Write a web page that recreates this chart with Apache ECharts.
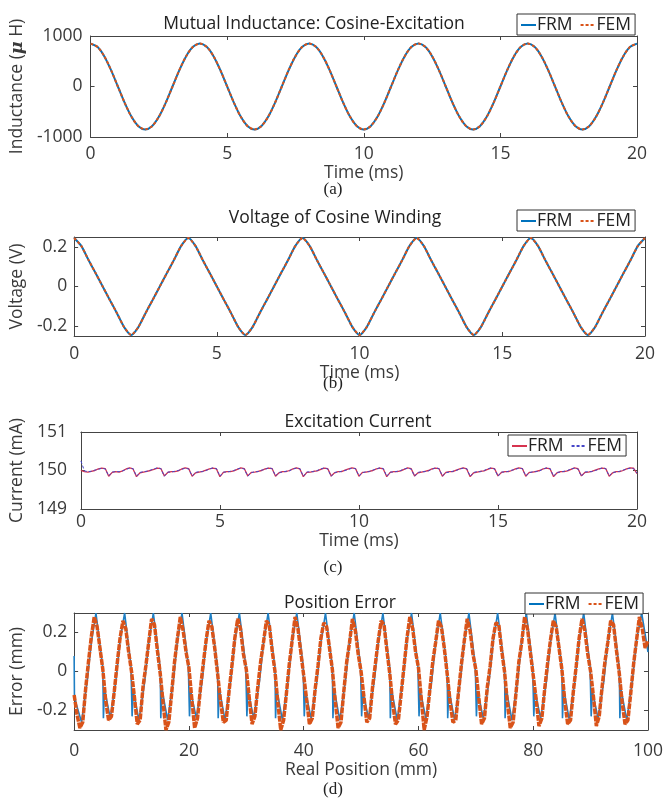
<!DOCTYPE html>
<html>
<head>
<meta charset="utf-8">
<script src="https://cdn.jsdelivr.net/npm/echarts@6/dist/echarts.min.js"></script>
<style>
  html, body { margin: 0; padding: 0; background: #fff; }
  #main { width: 666px; height: 800px; }
</style>
</head>
<body>
<div id="main"></div>
<script>
// (a) mutual inductance (uH), one sample every 0.25 ms
var inductance = [
  850, 785, 601, 325, 0, -325, -601, -785, -850, -785, -601, -325, 0, 325, 601, 785,
  850, 785, 601, 325, 0, -325, -601, -785, -850, -785, -601, -325, 0, 325, 601, 785,
  850, 785, 601, 325, 0, -325, -601, -785, -850, -785, -601, -325, 0, 325, 601, 785,
  850, 785, 601, 325, 0, -325, -601, -785, -850, -785, -601, -325, 0, 325, 601, 785,
  850, 785, 601, 325, 0, -325, -601, -785, -850, -785, -601, -325, 0, 325, 601, 785,
  850
];
// (b) voltage of cosine winding (V), every 0.25 ms
var voltage = [
  0.245, 0.205, 0.135, 0.068, 0, -0.068, -0.135, -0.205, -0.245, -0.205, -0.135, -0.068, 0, 0.068, 0.135, 0.205,
  0.245, 0.205, 0.135, 0.068, 0, -0.068, -0.135, -0.205, -0.245, -0.205, -0.135, -0.068, 0, 0.068, 0.135, 0.205,
  0.245, 0.205, 0.135, 0.068, 0, -0.068, -0.135, -0.205, -0.245, -0.205, -0.135, -0.068, 0, 0.068, 0.135, 0.205,
  0.245, 0.205, 0.135, 0.068, 0, -0.068, -0.135, -0.205, -0.245, -0.205, -0.135, -0.068, 0, 0.068, 0.135, 0.205,
  0.245, 0.205, 0.135, 0.068, 0, -0.068, -0.135, -0.205, -0.245, -0.205, -0.135, -0.068, 0, 0.068, 0.135, 0.205,
  0.245
];
// (c) excitation current (mA), every 0.125 ms
var currentFRM = [
  150.00, 149.97, 149.96, 149.98, 150.00, 150.04, 150.06, 150.05,
  149.85, 149.95, 149.97, 149.96, 149.99, 150.04, 150.07, 150.04,
  149.84, 149.94, 149.96, 149.98, 150.00, 150.03, 150.06, 150.05,
  149.86, 149.95, 149.97, 149.97, 149.99, 150.04, 150.07, 150.05,
  149.85, 149.94, 149.96, 149.98, 150.01, 150.04, 150.06, 150.04,
  149.84, 149.95, 149.97, 149.97, 149.99, 150.03, 150.07, 150.05,
  149.86, 149.95, 149.96, 149.98, 150.00, 150.04, 150.06, 150.05,
  149.85, 149.94, 149.97, 149.97, 150.00, 150.04, 150.07, 150.04,
  149.84, 149.95, 149.96, 149.98, 149.99, 150.03, 150.06, 150.05,
  149.86, 149.94, 149.97, 149.97, 150.01, 150.04, 150.07, 150.05,
  149.85, 149.95, 149.96, 149.98, 150.00, 150.04, 150.06, 150.04,
  149.84, 149.95, 149.97, 149.97, 149.99, 150.03, 150.07, 150.05,
  149.86, 149.94, 149.96, 149.98, 150.00, 150.04, 150.06, 150.05,
  149.85, 149.95, 149.97, 149.97, 150.01, 150.04, 150.07, 150.04,
  149.84, 149.94, 149.96, 149.98, 149.99, 150.03, 150.06, 150.05,
  149.86, 149.95, 149.97, 149.97, 150.00, 150.04, 150.07, 150.05,
  149.85, 149.95, 149.96, 149.98, 150.00, 150.04, 150.06, 150.04,
  149.84, 149.94, 149.97, 149.97, 149.99, 150.03, 150.07, 150.05,
  149.86, 149.95, 149.96, 149.98, 150.01, 150.04, 150.06, 150.05,
  149.85, 149.94, 149.97, 149.97, 150.00, 150.04, 150.07, 150.06,
  149.92
];
var currentFEM = [
  150.25, 149.99, 149.97, 149.98, 150.01, 150.03, 150.06, 150.04,
  149.86, 149.96, 149.97, 149.97, 149.99, 150.03, 150.06, 150.05,
  149.85, 149.95, 149.97, 149.98, 150.01, 150.04, 150.07, 150.05,
  149.85, 149.96, 149.96, 149.98, 150.00, 150.03, 150.06, 150.04,
  149.86, 149.95, 149.97, 149.97, 150.00, 150.04, 150.07, 150.05,
  149.85, 149.96, 149.96, 149.98, 150.00, 150.04, 150.06, 150.04,
  149.85, 149.94, 149.97, 149.97, 150.01, 150.03, 150.07, 150.05,
  149.86, 149.95, 149.96, 149.98, 149.99, 150.04, 150.06, 150.05,
  149.85, 149.96, 149.97, 149.97, 150.00, 150.04, 150.07, 150.04,
  149.85, 149.95, 149.96, 149.98, 150.00, 150.03, 150.06, 150.05,
  149.86, 149.94, 149.97, 149.97, 150.01, 150.04, 150.07, 150.05,
  149.85, 149.96, 149.96, 149.98, 150.00, 150.04, 150.06, 150.04,
  149.85, 149.95, 149.97, 149.97, 149.99, 150.03, 150.07, 150.05,
  149.86, 149.94, 149.96, 149.98, 150.00, 150.04, 150.06, 150.05,
  149.85, 149.95, 149.97, 149.97, 150.00, 150.04, 150.07, 150.04,
  149.85, 149.96, 149.96, 149.98, 150.01, 150.03, 150.06, 150.05,
  149.86, 149.94, 149.97, 149.97, 149.99, 150.04, 150.07, 150.05,
  149.85, 149.95, 149.96, 149.98, 150.00, 150.04, 150.06, 150.04,
  149.85, 149.96, 149.97, 149.97, 150.00, 150.03, 150.07, 150.05,
  149.86, 149.95, 149.96, 149.98, 150.01, 150.04, 150.06, 150.05,
  149.93
];
// (d) position error (mm): FEM every 0.5 mm, FRM as [position, error]
var errorFEM = [
  -0.12, -0.22, -0.29, -0.26, -0.09, 0.05, 0.18, 0.28, 0.23, 0.12,
  0.01, -0.15, -0.25, -0.23, -0.10, 0.04, 0.17, 0.26, 0.22, 0.10,
  0.00, -0.13, -0.27, -0.25, -0.08, 0.03, 0.15, 0.27, 0.24, 0.11,
  -0.01, -0.16, -0.30, -0.26, -0.11, 0.05, 0.17, 0.28, 0.21, 0.10,
  0.02, -0.14, -0.29, -0.24, -0.09, 0.04, 0.16, 0.26, 0.23, 0.12,
  -0.01, -0.15, -0.26, -0.25, -0.10, 0.03, 0.17, 0.27, 0.22, 0.09,
  0.01, -0.13, -0.27, -0.23, -0.08, 0.05, 0.15, 0.26, 0.24, 0.11,
  0.00, -0.16, -0.30, -0.25, -0.11, 0.04, 0.16, 0.28, 0.22, 0.10,
  -0.02, -0.14, -0.27, -0.24, -0.09, 0.03, 0.17, 0.25, 0.23, 0.12,
  0.01, -0.15, -0.29, -0.26, -0.10, 0.05, 0.15, 0.27, 0.21, 0.09,
  0.00, -0.13, -0.26, -0.24, -0.08, 0.04, 0.16, 0.26, 0.24, 0.11,
  -0.01, -0.16, -0.27, -0.25, -0.11, 0.03, 0.17, 0.28, 0.22, 0.10,
  0.02, -0.14, -0.30, -0.23, -0.09, 0.05, 0.15, 0.26, 0.23, 0.12,
  -0.01, -0.15, -0.26, -0.25, -0.10, 0.04, 0.16, 0.27, 0.21, 0.09,
  0.01, -0.13, -0.27, -0.24, -0.08, 0.03, 0.17, 0.25, 0.24, 0.11,
  0.00, -0.16, -0.29, -0.26, -0.11, 0.05, 0.15, 0.28, 0.22, 0.10,
  -0.02, -0.14, -0.28, -0.24, -0.09, 0.04, 0.16, 0.26, 0.23, 0.12,
  0.01, -0.15, -0.27, -0.25, -0.10, 0.03, 0.17, 0.27, 0.21, 0.09,
  0.00, -0.13, -0.28, -0.23, -0.08, 0.05, 0.15, 0.26, 0.24, 0.11,
  -0.01, -0.16, -0.27, -0.25, -0.11, 0.04, 0.16, 0.28, 0.22, 0.12,
  0.16
];
var errorFRM = [
  [0, 0.08], [0.05, -0.12], [0.3, -0.16], [1.3, -0.26], [2.3, -0.04], [3, 0.15], [3.8, 0.3], [4.9, 0.04],
  [5, 0.02], [5.1, -0.24], [5.3, -0.09], [6.3, -0.24], [7.3, -0.04], [8, 0.16], [8.8, 0.3], [9.9, 0.03],
  [10, 0.03], [10.1, -0.23], [10.3, -0.1], [11.3, -0.25], [12.3, -0.05], [13, 0.15], [13.8, 0.3], [14.9, 0.04],
  [15, 0.02], [15.1, -0.24], [15.3, -0.09], [16.3, -0.25], [17.3, -0.04], [18, 0.16], [18.8, 0.3], [19.9, 0.03],
  [20, 0.03], [20.1, -0.23], [20.3, -0.1], [21.3, -0.24], [22.3, -0.05], [23, 0.15], [23.8, 0.3], [24.9, 0.04],
  [25, 0.02], [25.1, -0.24], [25.3, -0.09], [26.3, -0.25], [27.3, -0.04], [28, 0.16], [28.8, 0.3], [29.9, 0.03],
  [30, 0.03], [30.1, -0.23], [30.3, -0.1], [31.3, -0.24], [32.3, -0.05], [33, 0.15], [33.8, 0.3], [34.9, 0.04],
  [35, 0.02], [35.1, -0.24], [35.3, -0.09], [36.3, -0.25], [37.3, -0.04], [38, 0.16], [38.8, 0.3], [39.9, 0.03],
  [40, 0.03], [40.1, -0.23], [40.3, -0.1], [41.3, -0.24], [42.3, -0.05], [43, 0.15], [43.8, 0.3], [44.9, 0.04],
  [45, 0.02], [45.1, -0.24], [45.3, -0.09], [46.3, -0.25], [47.3, -0.04], [48, 0.16], [48.8, 0.3], [49.9, 0.03],
  [50, 0.03], [50.1, -0.23], [50.3, -0.1], [51.3, -0.24], [52.3, -0.05], [53, 0.15], [53.8, 0.3], [54.9, 0.04],
  [55, 0.02], [55.1, -0.24], [55.3, -0.09], [56.3, -0.25], [57.3, -0.04], [58, 0.16], [58.8, 0.3], [59.9, 0.03],
  [60, 0.03], [60.1, -0.23], [60.3, -0.1], [61.3, -0.24], [62.3, -0.05], [63, 0.15], [63.8, 0.3], [64.9, 0.04],
  [65, 0.02], [65.1, -0.24], [65.3, -0.09], [66.3, -0.25], [67.3, -0.04], [68, 0.16], [68.8, 0.3], [69.9, 0.03],
  [70, 0.03], [70.1, -0.23], [70.3, -0.1], [71.3, -0.24], [72.3, -0.05], [73, 0.15], [73.8, 0.3], [74.9, 0.04],
  [75, 0.02], [75.1, -0.24], [75.3, -0.09], [76.3, -0.25], [77.3, -0.04], [78, 0.16], [78.8, 0.3], [79.9, 0.03],
  [80, 0.03], [80.1, -0.23], [80.3, -0.1], [81.3, -0.24], [82.3, -0.05], [83, 0.15], [83.8, 0.3], [84.9, 0.04],
  [85, 0.02], [85.1, -0.24], [85.3, -0.09], [86.3, -0.25], [87.3, -0.04], [88, 0.16], [88.8, 0.3], [89.9, 0.03],
  [90, 0.03], [90.1, -0.23], [90.3, -0.1], [91.3, -0.24], [92.3, -0.05], [93, 0.15], [93.8, 0.3], [94.9, 0.04],
  [95, 0.02], [95.1, -0.24], [95.3, -0.09], [96.3, -0.25], [97.3, -0.04], [98, 0.16], [98.9, 0.3], [100, 0.1]
];

var timeTicks = [0, 5, 10, 15, 20];
var posTicks = [0, 20, 40, 60, 80, 100];
var inductTicks = [-1000, 0, 1000];
var voltTicks = [-0.2, 0, 0.2];
var currTicks = [149, 150, 151];
var errTicks = [-0.2, 0, 0.2];

var FONT = '"Open Sans", sans-serif';
var FS = 17.5;
var TXT = '#3a3a3a';
var AX = '#444';
var BLUE = '#0072BD', ORANGE = '#D95319';

// pair values with a regular sampling step
function withStep(vals, dt) {
  return vals.map(function (v, i) { return [+(i * dt).toFixed(3), v]; });
}
function plain(v) { return String(v); }

var grids = [
  { left: 81, top: 36, width: 556, height: 101 },
  { left: 72, top: 237, width: 573, height: 99 },
  { left: 78, top: 432, width: 559, height: 77 },
  { left: 73, top: 613, width: 583, height: 117 }
];

var xAxes = [], yAxes = [];
function addX(g, max, ticks, name, labelMargin, nameGap) {
  xAxes.push({
    type: 'value', gridIndex: g, position: 'bottom', min: 0, max: max,
    name: name, nameLocation: 'middle', nameGap: nameGap,
    nameTextStyle: { fontFamily: FONT, fontSize: FS, color: TXT },
    axisLine: { onZero: false, lineStyle: { color: AX, width: 1 } },
    axisTick: { inside: true, length: 4, customValues: ticks, lineStyle: { color: AX } },
    axisLabel: { customValues: ticks, formatter: plain, margin: labelMargin, fontFamily: FONT, fontSize: FS, color: TXT },
    splitLine: { show: false }
  });
  xAxes.push({
    type: 'value', gridIndex: g, position: 'top', min: 0, max: max,
    axisLine: { onZero: false, lineStyle: { color: AX, width: 1 } },
    axisTick: { inside: true, length: 4, customValues: ticks, lineStyle: { color: AX } },
    axisLabel: { show: false }, splitLine: { show: false }
  });
}
function addY(g, min, max, ticks, labelMargin, name, nameGap) {
  yAxes.push({
    type: 'value', gridIndex: g, position: 'left', min: min, max: max,
    name: name, nameLocation: 'middle', nameGap: nameGap, nameRotate: 90,
    nameTextStyle: {
      fontFamily: FONT, fontSize: FS, color: TXT,
      rich: { mu: { fontFamily: '"DejaVu Serif", serif', fontWeight: 'bold', fontStyle: 'italic', fontSize: FS, color: TXT } }
    },
    axisLine: { onZero: false, lineStyle: { color: AX, width: 1 } },
    axisTick: { inside: true, length: 4, customValues: ticks, lineStyle: { color: AX } },
    axisLabel: { customValues: ticks, formatter: plain, margin: labelMargin, fontFamily: FONT, fontSize: FS, color: TXT },
    splitLine: { show: false }
  });
  yAxes.push({
    type: 'value', gridIndex: g, position: 'right', min: min, max: max,
    axisLine: { onZero: false, lineStyle: { color: AX, width: 1 } },
    axisTick: { inside: true, length: 4, customValues: ticks, lineStyle: { color: AX } },
    axisLabel: { show: false }, splitLine: { show: false }
  });
}

addX(0, 20, timeTicks, 'Time (ms)', 8, 25);
addY(0, -1000, 1000, inductTicks, 8, 'Inductance ({mu|μ} H)', 52);
addX(1, 20, timeTicks, 'Time (ms)', 9, 25);
addY(1, -0.25, 0.25, voltTicks, 7, 'Voltage (V)', 37);
addX(2, 20, timeTicks, 'Time (ms)', 4, 19);
addY(2, 149, 151, currTicks, 14, 'Current (mA)', 43);
addX(3, 100, posTicks, 'Real Position (mm)', 12, 29);
addY(3, -0.3, 0.3, errTicks, 7, 'Error (mm)', 39);

function line(name, g, data, color, width, dash, z, smooth) {
  return {
    type: 'line', name: name, xAxisIndex: 2 * g, yAxisIndex: 2 * g,
    data: data, symbol: 'none', showSymbol: false, animation: false, z: z,
    smooth: smooth || false,
    lineStyle: { color: color, width: width, type: dash || 'solid' },
    itemStyle: { color: color }
  };
}

var series = [
  line('FRM', 0, withStep(inductance, 0.25), BLUE, 2, null, 2, 0.3),
  line('FEM', 0, withStep(inductance, 0.25), ORANGE, 2, [3, 2], 3, 0.3),
  line('FRM', 1, withStep(voltage, 0.25), BLUE, 2, null, 2, 0.2),
  line('FEM', 1, withStep(voltage, 0.25), ORANGE, 2, [3, 2], 3, 0.2),
  line('FRM ', 2, withStep(currentFRM, 0.125), '#D6334F', 1.3, null, 2),
  line('FEM ', 2, withStep(currentFEM, 0.125), '#4646C8', 1, [3, 2], 3),
  line('FRM', 3, errorFRM, '#1F7FC4', 1.6, null, 2),
  line('FEM', 3, withStep(errorFEM, 0.5), ORANGE, 3.5, [6, 1], 3)
];

function legend(left, top, names) {
  return {
    data: names, left: left, top: top, orient: 'horizontal',
    itemWidth: 15, itemHeight: 10, itemGap: 7, padding: [2, 4, 1, 3],
    borderColor: '#333', borderWidth: 1, backgroundColor: '#fff', borderRadius: 0,
    selectedMode: false,
    itemStyle: { opacity: 0 },
    textStyle: { fontFamily: FONT, fontSize: FS, color: '#222', padding: [0, 0, 0, -4] },
    formatter: function (n) { return n.trim(); }
  };
}

function label(text, x, y, size, family) {
  return {
    type: 'text', x: x, y: y, z: 10,
    style: {
      text: text, fill: '#222', font: size + 'px ' + family,
      align: 'center', verticalAlign: 'middle', textAlign: 'center', textVerticalAlign: 'middle'
    }
  };
}

var chart = echarts.init(document.getElementById('main'), null, { renderer: 'canvas' });
chart.setOption({
  backgroundColor: '#fff',
  animation: false,
  grid: grids.map(function (g) { return Object.assign({ show: false }, g); }),
  xAxis: xAxes,
  yAxis: yAxes,
  legend: [
    legend(517, 14, ['FRM', 'FEM']),
    legend(517, 210, ['FRM', 'FEM']),
    legend(508, 435, ['FRM ', 'FEM ']),
    legend(525, 593, ['FRM', 'FEM'])
  ],
  graphic: [
    label('Mutual Inductance: Cosine-Excitation', 314, 24, FS, FONT),
    label('Voltage of Cosine Winding', 335, 218, FS, FONT),
    label('Excitation Current', 358, 422, FS, FONT),
    label('Position Error', 340, 603, FS, FONT),
    label('(a)', 333, 190, 17, '"Liberation Serif", serif'),
    label('(b)', 333, 384, 17, '"Liberation Serif", serif'),
    label('(c)', 333, 568, 17, '"Liberation Serif", serif'),
    label('(d)', 333, 790, 17, '"Liberation Serif", serif')
  ],
  series: series
});
</script>
</body>
</html>
